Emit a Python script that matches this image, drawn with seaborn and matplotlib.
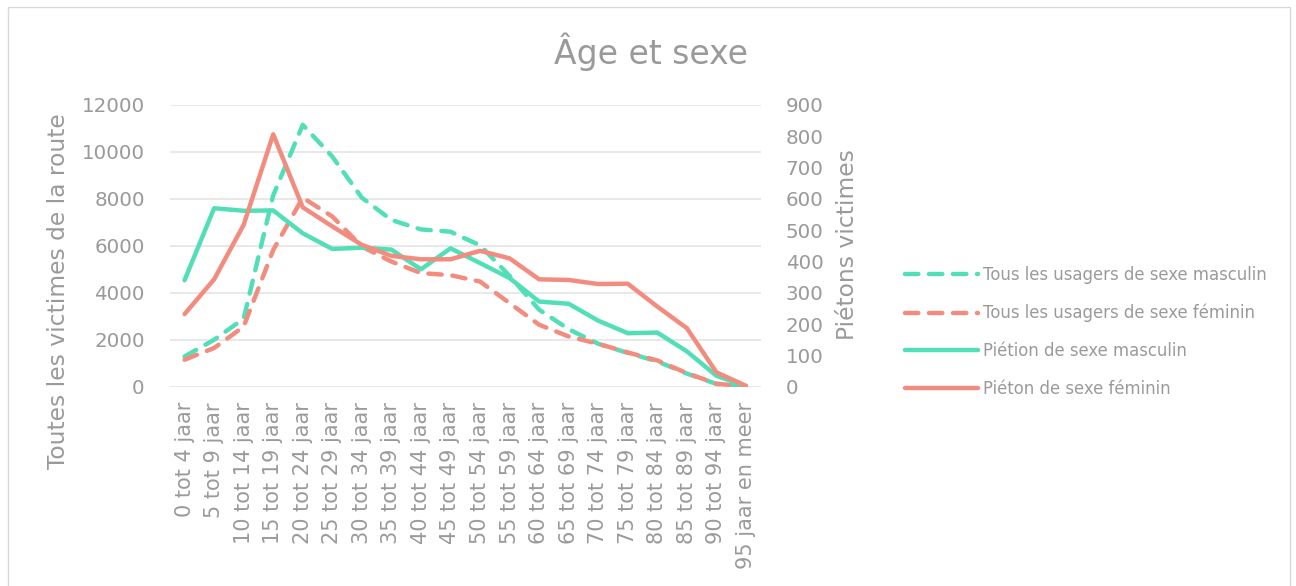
import numpy as np
import pandas as pd
import seaborn as sns
import matplotlib
matplotlib.use("Agg")
import matplotlib.pyplot as plt
from matplotlib.patches import Rectangle

# categories (age groups)
cats = ["0 tot 4 jaar", "5 tot 9 jaar", "10 tot 14 jaar", "15 tot 19 jaar",
        "20 tot 24 jaar", "25 tot 29 jaar", "30 tot 34 jaar", "35 tot 39 jaar",
        "40 tot 44 jaar", "45 tot 49 jaar", "50 tot 54 jaar", "55 tot 59 jaar",
        "60 tot 64 jaar", "65 tot 69 jaar", "70 tot 74 jaar", "75 tot 79 jaar",
        "80 tot 84 jaar", "85 tot 89 jaar", "90 tot 94 jaar", "95 jaar en meer"]

# all road users (left axis)
tous_m = [1290, 2000, 2900, 8150, 11150, 9800, 8050, 7100, 6700, 6600,
          6020, 4720, 3280, 2450, 1830, 1440, 1080, 560, 120, 10]
tous_f = [1150, 1650, 2560, 5820, 8050, 7250, 5970, 5330, 4840, 4750,
          4480, 3560, 2640, 2140, 1830, 1460, 1120, 580, 130, 10]

# pedestrians (right axis)
ped_m = [340, 570, 562, 563, 490, 440, 444, 438, 375, 442,
         395, 347, 272, 265, 211, 171, 173, 113, 35, 2]
ped_f = [232, 343, 517, 806, 573, 512, 453, 418, 407, 407,
         434, 410, 343, 341, 328, 329, 256, 187, 46, 3]

labels = ["Tous les usagers de sexe masculin", "Tous les usagers de sexe féminin",
          "Piétion de sexe masculin", "Piéton de sexe féminin"]

green = "#52DFB8"
red = "#F28C7F"
grey = "#9a9a9a"

sns.set_style("white")
plt.rcParams['font.family'] = ['DejaVu Sans']

df = pd.DataFrame({"pos": np.arange(len(cats)), "tous_m": tous_m, "tous_f": tous_f,
                   "ped_m": ped_m, "ped_f": ped_f})

fig = plt.figure(figsize=(12.96, 5.86), dpi=100)
ax = fig.add_axes([0.131, 0.340, 0.456, 0.481])
ax2 = ax.twinx()

sns.lineplot(data=df, x="pos", y="tous_m", ax=ax, color=green, linewidth=3.2, label=labels[0])
sns.lineplot(data=df, x="pos", y="tous_f", ax=ax, color=red, linewidth=3.2, label=labels[1])
for ln in ax.lines:
    ln.set_dashes([3.0, 2.4])
    ln.set_dash_capstyle("round")
sns.lineplot(data=df, x="pos", y="ped_m", ax=ax2, color=green, linewidth=3.2, label=labels[2])
sns.lineplot(data=df, x="pos", y="ped_f", ax=ax2, color=red, linewidth=3.2, label=labels[3])
for ln in ax2.lines:
    ln.set_solid_capstyle("round")

for a in (ax, ax2):
    if a.get_legend() is not None:
        a.get_legend().remove()
    for s in a.spines.values():
        s.set_visible(False)

ax.set_xlim(-0.5, len(cats) - 0.5)
ax.set_ylim(0, 12000)
ax2.set_ylim(0, 900)
ax.set_yticks(np.arange(0, 12001, 2000))
ax2.set_yticks(np.arange(0, 901, 100))
ax.set_xticks(df["pos"])
ax.set_xticklabels(cats, rotation=90)

ax.grid(axis="y", color="#e6e6e6", linewidth=1.3)
ax.set_axisbelow(True)
ax2.grid(False)

ax.tick_params(axis="y", length=0, pad=18, labelsize=14.3, labelcolor=grey)
ax.tick_params(axis="x", length=0, pad=11, labelsize=15, labelcolor=grey)
ax2.tick_params(axis="y", length=0, pad=18, labelsize=14.3, labelcolor=grey)

ax.set_xlabel("")
ax.set_ylabel("Toutes les victimes de la route", fontsize=16.8, color=grey)
ax.yaxis.set_label_coords(-0.168, 0.34)
ax2.set_ylabel("Piétons victimes", fontsize=16.8, color=grey)
ax2.yaxis.set_label_coords(1.128, 0.504)

fig.text(651 / 1296, 1 - 52 / 586, "Âge et sexe", ha="center", va="center",
         fontsize=23.8, color=grey)

h1, l1 = ax.get_legend_handles_labels()
h2, l2 = ax2.get_legend_handles_labels()
fig.legend(h1 + h2, l1 + l2, loc="center left", bbox_to_anchor=(905 / 1296, 1 - 332 / 586),
           frameon=False, fontsize=11.9, labelcolor=grey, handlelength=4.4,
           handletextpad=0.3, labelspacing=1.2, borderpad=0, borderaxespad=0)

fig.patches.append(Rectangle((8 / 1296, -0.02), (1290 - 8) / 1296, 1 - 7 / 586 + 0.02,
                             transform=fig.transFigure, fill=False,
                             edgecolor="#d9d9d9", linewidth=1))

fig.savefig("out.png", dpi=100)
